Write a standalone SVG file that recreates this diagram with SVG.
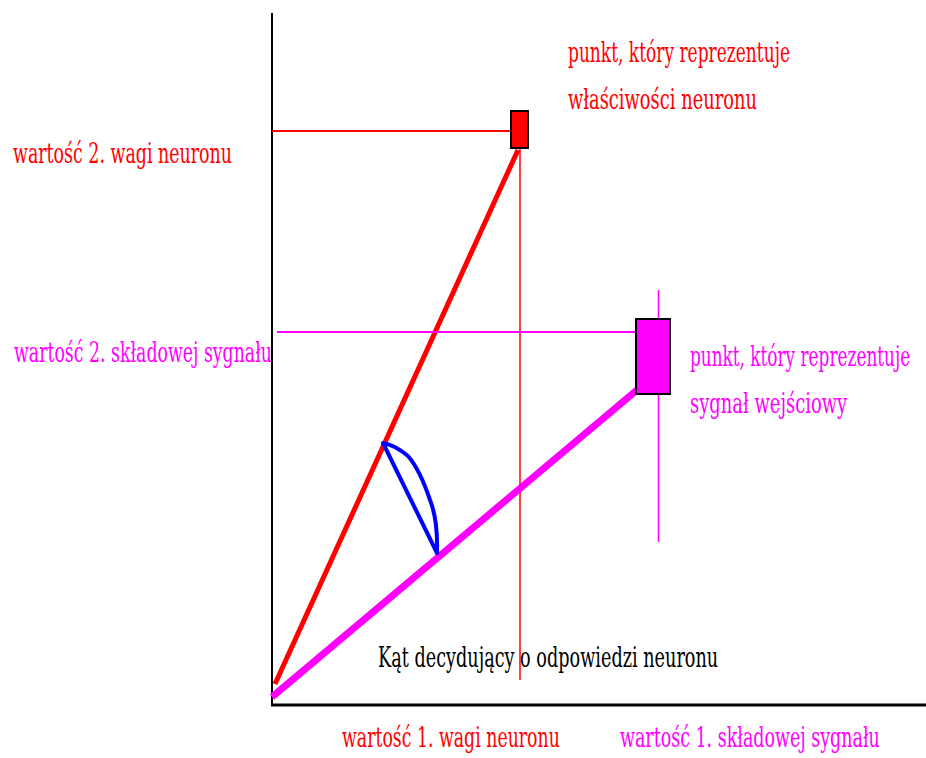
<svg xmlns="http://www.w3.org/2000/svg" width="926" height="758" viewBox="0 0 926 758">
<style>
text{font-family:"DejaVu Serif","Liberation Serif",serif;font-size:28px;}
.r{fill:#ff0000}
.m{fill:#ff00ff}
.k{fill:#000}
</style>
<rect width="926" height="758" fill="#fff"/>
<g id="axes">
<line x1="272" y1="13" x2="272" y2="706" stroke="#000" stroke-width="2"/>
<line x1="271" y1="705" x2="926" y2="705" stroke="#000" stroke-width="3"/>
</g>
<g id="connectors" fill="none">
<line x1="272" y1="131" x2="511" y2="131" stroke="#ff0000" stroke-width="2"/>
<line x1="520" y1="148" x2="520" y2="680" stroke="#ff0000" stroke-width="1.5"/>
<line x1="275" y1="684" x2="518" y2="150" stroke="#ff0000" stroke-width="5"/>
<line x1="277" y1="332" x2="636" y2="332" stroke="#ff00ff" stroke-width="2"/>
<line x1="658.5" y1="290" x2="658.5" y2="542" stroke="#ff00ff" stroke-width="1.5"/>
<line x1="272" y1="697" x2="637" y2="390" stroke="#ff00ff" stroke-width="7"/>
<path d="M383 443 L437 553 Q438 520 430 500 Q420 470 408 456 Q395 445 383 443 Z" stroke="#0000ff" stroke-width="4" stroke-linejoin="round"/>
</g>
<g id="neuron-point">
<rect x="511" y="111" width="17" height="37" fill="#ff0000" stroke="#000" stroke-width="2"/>
</g>
<g id="signal-point">
<rect x="636" y="319" width="34" height="75" fill="#ff00ff" stroke="#000" stroke-width="2"/>
</g>
<g id="labels">
<text class="r" transform="translate(568 62) scale(0.6 1)" textLength="370" lengthAdjust="spacingAndGlyphs">punkt, który reprezentuje</text>
<text class="r" transform="translate(568 109) scale(0.6 1)" textLength="315" lengthAdjust="spacingAndGlyphs">właściwości neuronu</text>
<text class="r" transform="translate(13 163) scale(0.6 1)" textLength="365" lengthAdjust="spacingAndGlyphs">wartość 2. wagi neuronu</text>
<text class="m" transform="translate(14 362) scale(0.6 1)" textLength="430" lengthAdjust="spacingAndGlyphs">wartość 2. składowej sygnału</text>
<text class="m" transform="translate(690 366) scale(0.6 1)" textLength="367" lengthAdjust="spacingAndGlyphs">punkt, który reprezentuje</text>
<text class="m" transform="translate(690 413) scale(0.6 1)" textLength="262" lengthAdjust="spacingAndGlyphs">sygnał wejściowy</text>
<text class="k" transform="translate(378 667) scale(0.6 1)" textLength="567" lengthAdjust="spacingAndGlyphs">Kąt decydujący o odpowiedzi neuronu</text>
<text class="r" transform="translate(342 747) scale(0.6 1)" textLength="363" lengthAdjust="spacingAndGlyphs">wartość 1. wagi neuronu</text>
<text class="m" transform="translate(620 747) scale(0.6 1)" textLength="433" lengthAdjust="spacingAndGlyphs">wartość 1. składowej sygnału</text>
</g>
</svg>
